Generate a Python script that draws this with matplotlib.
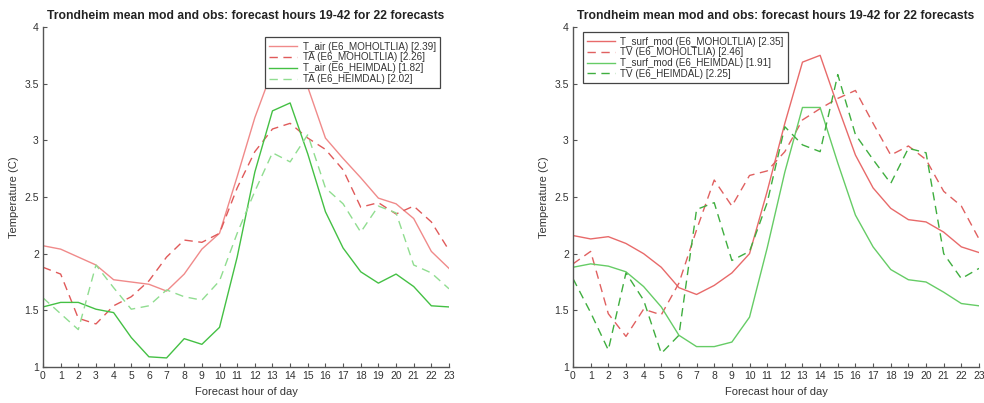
import matplotlib
matplotlib.use("Agg")
import matplotlib.pyplot as plt

plt.rcParams['font.family'] = ['Liberation Sans', 'DejaVu Sans']

hours = list(range(24))
hour_labels = [str(h) for h in hours]
yticks = [1, 1.5, 2, 2.5, 3, 3.5, 4]
ytick_labels = ["1", "1.5", "2", "2.5", "3", "3.5", "4"]

title = "Trondheim mean mod and obs: forecast hours 19-42 for 22 forecasts"

# Air temperature panel
t_air_moh = [2.07, 2.04, 1.97, 1.90, 1.77, 1.75, 1.73, 1.67, 1.82, 2.04, 2.18, 2.68,
             3.20, 3.62, 3.72, 3.47, 3.02, 2.84, 2.67, 2.49, 2.44, 2.31, 2.02, 1.87]
ta_moh = [1.88, 1.82, 1.43, 1.38, 1.54, 1.62, 1.76, 1.97, 2.12, 2.10, 2.18, 2.58,
          2.90, 3.10, 3.15, 3.02, 2.92, 2.74, 2.41, 2.45, 2.35, 2.42, 2.28, 2.03]
t_air_hei = [1.53, 1.57, 1.57, 1.51, 1.48, 1.26, 1.09, 1.08, 1.25, 1.20, 1.35, 1.97,
             2.72, 3.26, 3.33, 2.88, 2.37, 2.05, 1.84, 1.74, 1.82, 1.71, 1.54, 1.53]
ta_hei = [1.61, 1.47, 1.33, 1.90, 1.70, 1.51, 1.54, 1.68, 1.62, 1.59, 1.76, 2.18,
          2.55, 2.89, 2.81, 3.05, 2.58, 2.44, 2.19, 2.42, 2.36, 1.90, 1.83, 1.69]
left_labels = ["T_air (E6_MOHOLTLIA) [2.39]", "TA (E6_MOHOLTLIA) [2.26]",
               "T_air (E6_HEIMDAL) [1.82]", "TA (E6_HEIMDAL) [2.02]"]

# Surface temperature panel
ts_moh = [2.16, 2.13, 2.15, 2.09, 2.00, 1.88, 1.70, 1.64, 1.72, 1.83, 2.00, 2.55,
          3.15, 3.69, 3.75, 3.30, 2.87, 2.58, 2.40, 2.30, 2.28, 2.19, 2.06, 2.01]
tv_moh = [1.91, 2.02, 1.47, 1.27, 1.51, 1.46, 1.74, 2.21, 2.65, 2.42, 2.69, 2.73,
          2.90, 3.18, 3.28, 3.37, 3.44, 3.15, 2.87, 2.95, 2.83, 2.55, 2.42, 2.13]
ts_hei = [1.88, 1.91, 1.89, 1.84, 1.71, 1.53, 1.28, 1.18, 1.18, 1.22, 1.44, 2.05,
          2.72, 3.29, 3.29, 2.80, 2.34, 2.06, 1.86, 1.77, 1.75, 1.66, 1.56, 1.54]
tv_hei = [1.78, 1.48, 1.15, 1.83, 1.59, 1.12, 1.28, 2.39, 2.45, 1.94, 2.02, 2.45,
          3.12, 2.96, 2.90, 3.58, 3.05, 2.83, 2.62, 2.93, 2.89, 2.00, 1.78, 1.87]
right_labels = ["T_surf_mod (E6_MOHOLTLIA) [2.35]", "TV (E6_MOHOLTLIA) [2.46]",
                "T_surf_mod (E6_HEIMDAL) [1.91]", "TV (E6_HEIMDAL) [2.25]"]

W, H = 984, 403
fig = plt.figure(figsize=(W / 100, H / 100), dpi=100)

axis_col = "#555555"
text_col = "#333333"


def style(ax):
    ax.set_xlim(0, 23)
    ax.set_ylim(1, 4)
    ax.set_xticks(hours)
    ax.set_xticklabels(hour_labels)
    ax.set_yticks(yticks)
    ax.set_yticklabels(ytick_labels)
    for s in ("top", "right"):
        ax.spines[s].set_visible(False)
    for s in ("left", "bottom"):
        ax.spines[s].set_color(axis_col)
        ax.spines[s].set_linewidth(1.0)
    ax.tick_params(direction="in", length=3, width=0.8, colors=axis_col,
                   labelsize=7.5, labelcolor=text_col, pad=3)
    ax.set_xlabel("Forecast hour of day", fontsize=8, color=text_col, labelpad=4)
    ax.set_ylabel("Temperature (C)", fontsize=8, color=text_col, labelpad=4)
    ax.set_title(title, fontsize=8.7, fontweight="bold", color="#222222", pad=6)


def legend(ax, labels, loc, anchor):
    lg = ax.legend(labels, loc=loc, bbox_to_anchor=anchor, fontsize=7.1,
                   frameon=True, fancybox=False, framealpha=1, borderaxespad=0,
                   handlelength=2.8, handletextpad=0.55, labelspacing=0.08,
                   borderpad=0.45)
    lg.get_frame().set_edgecolor("#444444")
    lg.get_frame().set_linewidth(0.9)
    lg.set_zorder(5)
    for t in lg.get_texts():
        t.set_color(text_col)


lw = 1.0
dash = (0, (6, 4))
ax1 = fig.add_axes([43 / W, 36 / H, 406 / W, 340 / H])
ax1.plot(hours, t_air_moh, color="#f08a8a", lw=lw, ls="-")
ax1.plot(hours, ta_moh, color="#e05a5a", lw=lw, ls=dash)
ax1.plot(hours, t_air_hei, color="#44c044", lw=lw, ls="-")
ax1.plot(hours, ta_hei, color="#90dd90", lw=lw, ls=dash)
style(ax1)
legend(ax1, left_labels, "upper right", (0.978, 0.97))

ax2 = fig.add_axes([573 / W, 36 / H, 406 / W, 340 / H])
ax2.plot(hours, ts_moh, color="#e86a6a", lw=lw, ls="-")
ax2.plot(hours, tv_moh, color="#e06060", lw=lw, ls=dash)
ax2.plot(hours, ts_hei, color="#66cc66", lw=lw, ls="-")
ax2.plot(hours, tv_hei, color="#3fae3f", lw=lw, ls=dash)
style(ax2)
legend(ax2, right_labels, "upper left", (0.024, 0.985))

fig.savefig("out.png", dpi=100)
